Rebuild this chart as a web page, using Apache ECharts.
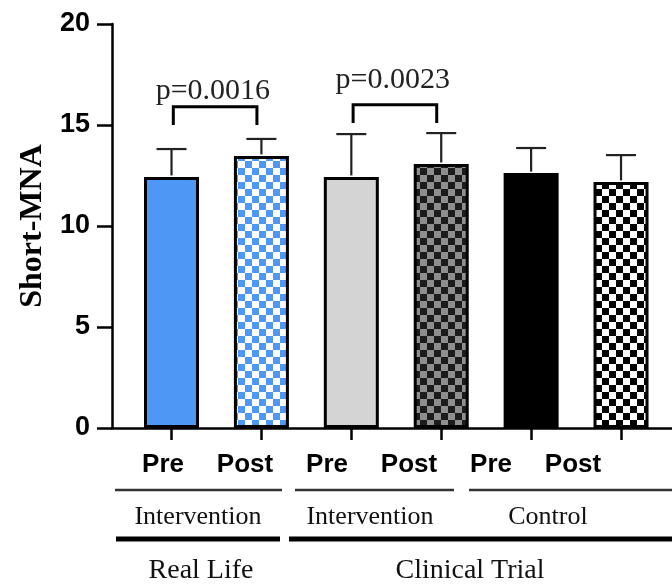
<!DOCTYPE html>
<html><head><meta charset="utf-8">
<script src="https://cdn.jsdelivr.net/npm/echarts@6/dist/echarts.min.js"></script>
<style>html,body{margin:0;padding:0;background:#fff}#c{width:672px;height:587px}</style>
</head><body><div id="c"></div>
<script>
// ---- data ----
const categories = ['Pre', 'Post', 'Pre', 'Post', 'Pre', 'Post'];
const means = [12.43, 13.47, 12.43, 13.07, 12.62, 12.18];
const sds = [1.38, 0.84, 2.12, 1.53, 1.24, 1.33];
const yTicks = [0, 5, 10, 15, 20];
const compFrom = [0, 2];
const compTo = [1, 3];
const compLabels = ['p=0.0016', 'p=0.0023'];
const compTop = [15.9, 16.0];
const compLegBottom = [15.0, 15.1];
const compTextY = [16.7, 17.2];
const subgroupLabels = ['Intervention', 'Intervention', 'Control'];
const groupLabels = ['Real Life', 'Clinical Trial'];

// ---- fills ----
function checker(c1, c2, s) {
  const cv = document.createElement('canvas');
  cv.width = s * 2; cv.height = s * 2;
  const g = cv.getContext('2d');
  g.fillStyle = c1; g.fillRect(0, 0, s * 2, s * 2);
  g.fillStyle = c2; g.fillRect(0, 0, s, s); g.fillRect(s, s, s, s);
  return { image: cv, repeat: 'repeat' };
}
const blue = '#4f97f5';
const fills = [
  blue,
  checker('#ffffff', blue, 7),
  '#d4d4d4',
  checker('#8e8e8e', '#1c1c1c', 7),
  '#000000',
  checker('#ffffff', '#000000', 7)
];

const chart = echarts.init(document.getElementById('c'));
const idx = categories.map((c, i) => i);
const serifText = (x, y, t, size) => ({
  type: 'text', x: x, y: y,
  style: { text: t, fontFamily: 'Liberation Serif', fontSize: size, fill: '#111', align: 'center', verticalAlign: 'middle' }
});

chart.setOption({
  animation: false,
  backgroundColor: '#fff',
  grid: [
    { left: 112, right: 0, top: 24, bottom: 159 },
    { left: 122, width: 492, top: 427, height: 1 }
  ],
  xAxis: [
    {
      type: 'value', gridIndex: 0, min: -0.662, max: 5.567,
      axisLine: { show: true, onZero: false, lineStyle: { color: '#000', width: 2.5 } },
      axisTick: { show: true, customValues: idx, length: 12, lineStyle: { color: '#000', width: 2.5 } },
      axisLabel: { show: false },
      splitLine: { show: false }
    },
    {
      type: 'category', gridIndex: 1, data: categories, position: 'bottom',
      axisLine: { show: false }, axisTick: { show: false },
      axisLabel: { interval: 0, margin: 24, fontSize: 26, fontWeight: 'bold', fontFamily: 'Liberation Sans', color: '#000' }
    }
  ],
  yAxis: [
    {
      type: 'value', gridIndex: 0, min: yTicks[0], max: yTicks[yTicks.length - 1], interval: 5,
      axisLine: { show: true, onZero: false, lineStyle: { color: '#000', width: 2.5 } },
      axisTick: { show: true, length: 15, lineStyle: { color: '#000', width: 2.5 } },
      axisLabel: { margin: 22, fontSize: 27, fontWeight: 'bold', fontFamily: 'Liberation Sans', color: '#000' },
      splitLine: { show: false },
      name: 'Short-MNA', nameLocation: 'middle', nameGap: 63, nameRotate: 90,
      nameTextStyle: { fontFamily: 'Liberation Serif', fontWeight: 'bold', fontSize: 32, color: '#000' }
    },
    { type: 'value', gridIndex: 1, show: false }
  ],
  series: [
    {
      type: 'bar', xAxisIndex: 0, yAxisIndex: 0, barWidth: 55,
      itemStyle: { borderColor: '#000', borderWidth: 3 },
      data: means.map((m, i) => ({ value: [i, m], itemStyle: { color: fills[i] } })),
      z: 2
    },
    {
      type: 'custom', xAxisIndex: 0, yAxisIndex: 0, z: 3,
      data: means.map((m, i) => [i, m, sds[i]]),
      renderItem: function (params, api) {
        const x = api.value(0), m = api.value(1), s = api.value(2);
        const b = api.coord([x, m]);
        const t = api.coord([x, m + s]);
        const st = { stroke: '#222', lineWidth: 2.2 };
        return {
          type: 'group', children: [
            { type: 'line', shape: { x1: b[0], y1: b[1] - 1.5, x2: t[0], y2: t[1] }, style: st },
            { type: 'line', shape: { x1: t[0] - 15, y1: t[1], x2: t[0] + 15, y2: t[1] }, style: st }
          ]
        };
      }
    },
    {
      type: 'custom', xAxisIndex: 0, yAxisIndex: 0, z: 4,
      data: compFrom.map((f, i) => [f, compTop[i]]),
      renderItem: function (params, api) {
        const i = params.dataIndex;
        const a = api.coord([compFrom[i] + 0.02, compTop[i]]);
        const b = api.coord([compTo[i] - 0.05, compTop[i]]);
        const lb = api.coord([compFrom[i], compLegBottom[i]]);
        const tx = api.coord([(compFrom[i] + compTo[i]) / 2 - 0.04, compTextY[i]]);
        return {
          type: 'group', children: [
            { type: 'polyline', shape: { points: [[a[0], lb[1]], [a[0], a[1]], [b[0], b[1]], [b[0], lb[1]]] },
              style: { stroke: '#000', lineWidth: 3, fill: null } },
            { type: 'text', x: tx[0], y: tx[1],
              style: { text: compLabels[i], fontFamily: 'Liberation Serif', fontSize: 30, fill: '#222', align: 'center', verticalAlign: 'middle' } }
          ]
        };
      }
    }
  ],
  graphic: [
    { type: 'line', shape: { x1: 115, y1: 490, x2: 282, y2: 490 }, style: { stroke: '#333', lineWidth: 2.5 } },
    { type: 'line', shape: { x1: 295, y1: 490, x2: 454, y2: 490 }, style: { stroke: '#333', lineWidth: 2.5 } },
    { type: 'line', shape: { x1: 469, y1: 490, x2: 672, y2: 490 }, style: { stroke: '#333', lineWidth: 2.5 } },
    serifText(198, 517, subgroupLabels[0], 26),
    serifText(370, 517, subgroupLabels[1], 26),
    serifText(548, 517, subgroupLabels[2], 26),
    { type: 'line', shape: { x1: 116, y1: 539, x2: 280, y2: 539 }, style: { stroke: '#000', lineWidth: 5 } },
    { type: 'line', shape: { x1: 289, y1: 539, x2: 672, y2: 539 }, style: { stroke: '#000', lineWidth: 5 } },
    serifText(201, 571, groupLabels[0], 28),
    serifText(470, 571, groupLabels[1], 28)
  ]
});
</script>
</body></html>
